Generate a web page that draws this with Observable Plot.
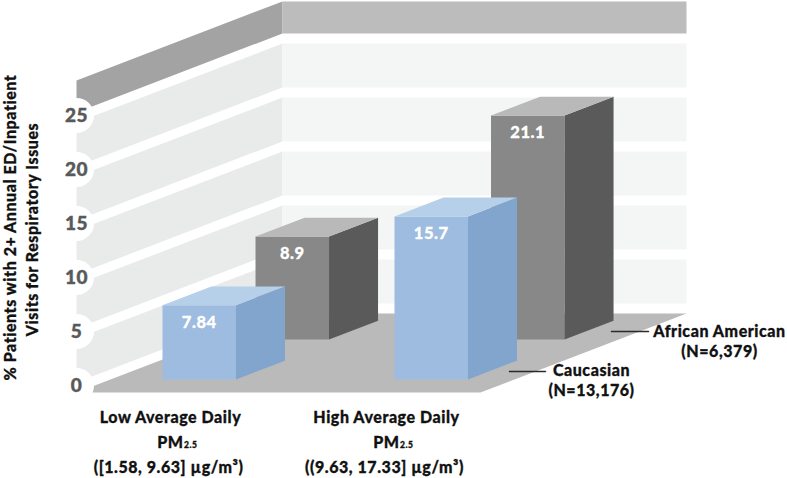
<!DOCTYPE html>
<html>
<head>
<meta charset="utf-8">
<script src="https://cdn.jsdelivr.net/npm/d3@7"></script>
<script src="https://cdn.jsdelivr.net/npm/@observablehq/plot@0.6"></script>
<style>
html,body{margin:0;padding:0;background:#fff}
svg{display:block}
svg text{letter-spacing:.55px}
</style>
</head>
<body>
<div id="chart"></div>
<script>
// ---- data ----
const exposures = ["Low Average Daily", "High Average Daily"];
const ranges = ["([1.58, 9.63] µg/m³)", "((9.63, 17.33] µg/m³)"];
const seriesNames = ["Caucasian", "African American"];
const seriesN = ["(N=13,176)", "(N=6,379)"];
const caucasianLabels = ["7.84", "15.7"];
const africanAmericanLabels = ["8.9", "21.1"];
// bar heights as drawn, read against the value axis
const caucasianDrawn = [6.87, 15.1];
const africanAmericanDrawn = [9.55, 20.75];
const ticks = [0, 5, 10, 15, 20, 25];
const yTitle = ["% Patients with 2+ Annual ED/Inpatient", "Visits for Respiratory Issues"];

// ---- layout of the oblique projection ----
const FONT = "Lato, 'Noto Sans', sans-serif";
const W = 787, H = 478, UNIT = 10.8, BASE = 392;
const DEPTH_X = 206, DEPTH_V = 79 / UNIT;
const U0 = 76, U1 = 480, GAP = 0.93, TOP = 28.9;
const BAR_W = 73.5, BAR_D = 0.238;
const rowDepth = [0.165, 0.67];
const groupU = [[128, 360], [117, 352.5]];
const P = (u, v, d) => ({x: u + DEPTH_X * d, y: v + DEPTH_V * d});
const lvl = py => (BASE - py) / UNIT;
const poly = (pts, fill) => Plot.line([...pts, pts[0]], {x: "x", y: "y", fill, stroke: "none"});

const marks = [];
const wall = "#e9ebea", back = "#f4f6f5";
// walls: panels between the white grid bands
for (const t of ticks.slice(0, -1)) {
  const a = t + GAP, b = t + 5;
  marks.push(poly([P(U0, a, 0), P(U0, a, 1), P(U0, b, 1), P(U0, b, 0)], wall));
  marks.push(poly([P(U0, a, 1), P(U1, a, 1), P(U1, b, 1), P(U0, b, 1)], back));
}
// top band
const tA = 25 + GAP;
marks.push(poly([P(U0, tA, 0), P(U0, tA, 1), P(U0, TOP, 1), P(U0, TOP, 0)], "#a3a3a3"));
marks.push(poly([P(U0, tA, 1), P(U1, tA, 1), P(U1, TOP, 1), P(U0, TOP, 1)], "#bcbcbc"));
// floor
marks.push(poly([P(U0, 0, 0), P(U1, 0, 0), P(U1, 0, 1), P(U0, 0, 1)], "#bababa"));

// bars, back row first
function bar(u, h, d, front, side, top, label) {
  const dz = d + BAR_D, r = u + BAR_W;
  marks.push(poly([P(u, 0, d), P(r, 0, d), P(r, h, d), P(u, h, d)], front));
  marks.push(poly([P(r, 0, d), P(r, 0, dz), P(r, h, dz), P(r, h, d)], side));
  marks.push(poly([P(u, h, d), P(r, h, d), P(r, h, dz), P(u, h, dz)], top));
  const c = P(u + BAR_W / 2, h - 17 / UNIT, d);
  marks.push(Plot.text([c], {x: "x", y: "y", text: () => label, fill: "#fff", stroke: "#fff", strokeWidth: 0.3, fontSize: 16.5, fontWeight: 900, fontFamily: FONT}));
}
const blue = ["#9dbce0", "#82a5cd", "#b6d0ea"], grey = ["#888888", "#5a5a5a", "#b9b9b9"];
exposures.forEach((_, i) => bar(groupU[1][i], africanAmericanDrawn[i], rowDepth[1], ...grey, africanAmericanLabels[i]));
exposures.forEach((_, i) => bar(groupU[0][i], caucasianDrawn[i], rowDepth[0], ...blue, caucasianLabels[i]));

// value axis: white discs with numbers
const tickRows = ticks.map(t => ({x: U0, y: t + 0.65, t}));
marks.push(Plot.dot(tickRows, {x: "x", y: "y", r: 17.5, fill: "#fff", stroke: "none"}));
marks.push(Plot.text(tickRows, {x: "x", y: "y", text: d => String(d.t), fill: "#58595b", stroke: "#58595b", strokeWidth: 0.4, fontSize: 19, fontWeight: 900, fontFamily: FONT}));

// titles
const txt = (s, x, py, o = {}) => Plot.text([{x, y: lvl(py)}], {x: "x", y: "y", text: () => s, fill: "#111", stroke: "#111", strokeWidth: 0.3, fontSize: 16, fontWeight: 900, fontFamily: FONT, ...o});
marks.push(txt(yTitle[0], 10, 227, {rotate: -90}));
marks.push(txt(yTitle[1], 32, 229, {rotate: -90}));
const lineX = [170, 386], pmX = [183, 399];
exposures.forEach((e, i) => {
  marks.push(txt(e, lineX[i], 417));
  marks.push(txt("PM", pmX[i], 442, {textAnchor: "end"}));
  marks.push(txt("2.5", pmX[i] + 0.5, 445, {textAnchor: "start", fontSize: 8.5}));
  marks.push(txt(ranges[i], lineX[i] - 2, 467));
});
// series labels with leader lines
const leader = [[509, 545, 371], [611, 648, 331]], seriesX = [591, 719], rows = [[370, 390], [331, 351]];
seriesNames.forEach((s, i) => {
  marks.push(Plot.line([{x: leader[i][0], y: lvl(leader[i][2])}, {x: leader[i][1], y: lvl(leader[i][2])}], {x: "x", y: "y", stroke: "#2a2a2a", strokeWidth: 1.5}));
  marks.push(txt(s, seriesX[i], rows[i][0]));
  marks.push(txt(seriesN[i], seriesX[i], rows[i][1]));
});

const chart = Plot.plot({
  width: W, height: H, margin: 0,
  x: {domain: [0, W], range: [0, W], axis: null},
  y: {domain: [lvl(H), lvl(0)], range: [H, 0], axis: null},
  style: {background: "#fff"},
  marks
});
document.getElementById("chart").append(chart);
</script>
</body>
</html>
